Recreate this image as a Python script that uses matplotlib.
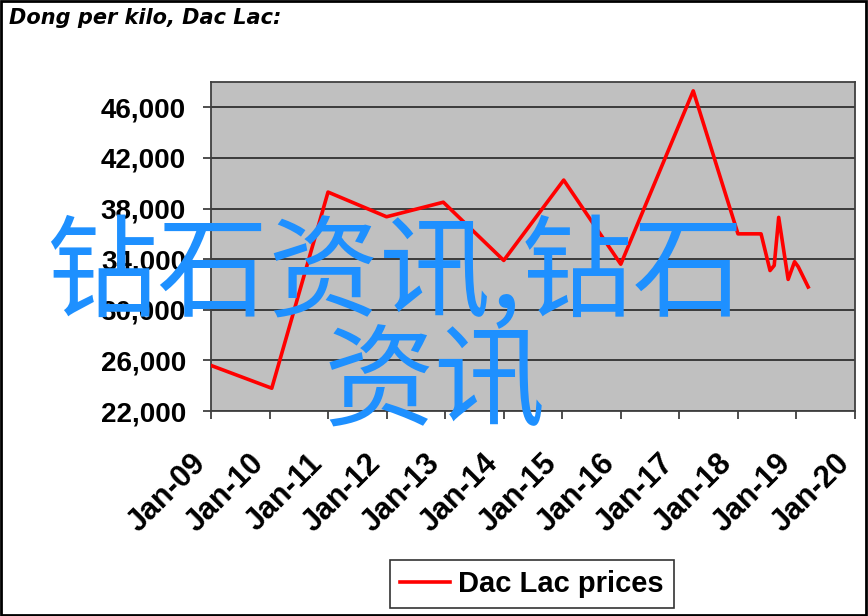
import matplotlib
matplotlib.use('Agg')
import matplotlib.pyplot as plt
import matplotlib.dates as mdates
import matplotlib.transforms as mtransforms
from matplotlib.ticker import FuncFormatter
from matplotlib.patches import Rectangle
import datetime as dt

# Dac Lac coffee prices, dong per kilo
dates = ['2009-01-01', '2010-01-15', '2011-01-01', '2012-01-01', '2012-12-20',
         '2014-01-01', '2015-01-10', '2016-01-01', '2017-03-28', '2018-01-01',
         '2018-05-25', '2018-07-20', '2018-08-15', '2018-09-12', '2018-11-10',
         '2018-12-20', '2019-01-12', '2019-03-15']
prices = [25600, 23800, 39300, 37350, 38500,
          33900, 40250, 33600, 47300, 36000,
          36000, 33100, 33500, 37300, 32400,
          33800, 33400, 31800]

years = list(range(2009, 2021))
y_ticks = [22000, 26000, 30000, 34000, 38000, 42000, 46000]

fig = plt.figure(figsize=(8.68, 6.16), dpi=100)
ax = fig.add_axes([211 / 868, 1 - 411 / 616, 644 / 868, 329 / 616])
ax.set_facecolor('#c0c0c0')

x = [dt.datetime.strptime(d, '%Y-%m-%d') for d in dates]
ax.plot(x, prices, color='red', lw=2.6, label='Dac Lac prices', zorder=3)

ax.set_xlim(dt.datetime(2009, 1, 1), dt.datetime(2020, 1, 1))
ax.set_ylim(22000, 48000)
ax.set_yticks(y_ticks)
ax.yaxis.set_major_formatter(FuncFormatter(lambda v, p: f'{v:,.0f}'))
ax.set_xticks([dt.datetime(y, 1, 1) for y in years])
ax.xaxis.set_major_formatter(mdates.DateFormatter('%b-%y'))

ax.grid(axis='y', color='#303030', lw=1.3)
ax.set_axisbelow(True)
for s in ax.spines.values():
    s.set_color('#404040')
    s.set_linewidth(1.3)
ax.tick_params(axis='both', length=6, width=1.2, color='#303030')
ax.tick_params(axis='y', pad=12)
ax.tick_params(axis='x', pad=30)

for lbl in ax.get_yticklabels():
    lbl.set_fontproperties(dict(family='Liberation Sans', weight='bold', size=20))

shift = mtransforms.ScaledTranslation(-10 / 100, 2 / 100, fig.dpi_scale_trans)
for lbl in ax.get_xticklabels():
    lbl.set_fontproperties(dict(family='Liberation Sans', weight='bold', size=22))
    lbl.set_rotation(45)
    lbl.set_ha('right')
    lbl.set_va('center')
    lbl.set_rotation_mode('anchor')
    lbl.set_transform(lbl.get_transform() + shift)

fig.text(0.01, 1 - 18 / 616, 'Dong per kilo, Dac Lac:', family='DejaVu Sans',
         weight='bold', style='italic', size=15, va='center', ha='left')

leg = fig.legend(loc='center', bbox_to_anchor=(532 / 868, 1 - 584 / 616),
                 frameon=True, fancybox=False, handlelength=1.7,
                 handletextpad=0.3, borderpad=0.35,
                 prop=dict(family='Liberation Sans', weight='bold', size=21))
leg.get_frame().set_edgecolor('black')
leg.get_frame().set_linewidth(1.2)

# watermark overlay
wm = dict(family=['Noto Sans CJK SC', 'DejaVu Sans'], color='#1e90ff', size=80,
          ha='center', va='center', zorder=10)
fig.text(395 / 868, 1 - 276 / 616, '钻石资讯,钻石', **wm)
fig.text(435 / 868, 1 - 386 / 616, '资讯', **wm)

fig.patches.append(Rectangle((0.001, 0.001), 0.997, 0.997, transform=fig.transFigure,
                             fill=False, edgecolor='black', lw=2))

fig.savefig('out.png', dpi=100)
